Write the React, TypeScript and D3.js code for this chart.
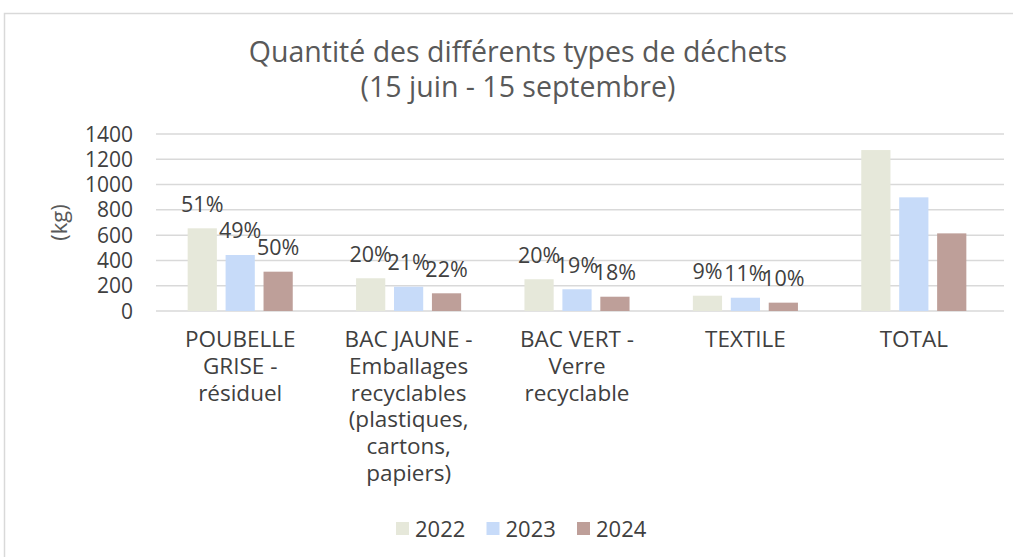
import React from "react";
import * as d3 from "d3";

const categories = [
  ["POUBELLE", "GRISE -", "résiduel"],
  ["BAC JAUNE -", "Emballages", "recyclables", "(plastiques,", "cartons,", "papiers)"],
  ["BAC VERT -", "Verre", "recyclable"],
  ["TEXTILE"],
  ["TOTAL"],
];
const categoryKeys = ["poubelle", "jaune", "vert", "textile", "total"];
const years = ["2022", "2023", "2024"];
const values2022 = [654, 259, 251, 121, 1273];
const values2023 = [443, 192, 172, 105, 899];
const values2024 = [311, 140, 113, 66, 614];
const pct2022 = ["51%", "20%", "20%", "9%", ""];
const pct2023 = ["49%", "21%", "19%", "11%", ""];
const pct2024 = ["50%", "22%", "18%", "10%", ""];
const yTicks = [0, 200, 400, 600, 800, 1000, 1200, 1400];
const colors = ["#e6e8da", "#c7dbf9", "#be9f99"];

const seriesValues = [values2022, values2023, values2024];
const seriesPct = [pct2022, pct2023, pct2024];

export default function App() {
  const W = 1013, H = 557;
  const left = 156, right = 998, top = 134, bottom = 311;
  const x = d3.scaleBand().domain(categoryKeys).range([left, right]).paddingInner(0.376).paddingOuter(0.188);
  const xs = d3.scaleBand().domain(years).range([0, x.bandwidth()]).paddingInner(0.23);
  const y = d3.scaleLinear().domain([0, 1400]).range([bottom, top]);
  const labelFont = "'Open Sans', 'Noto Sans', sans-serif";
  const textColor = "#404040";
  return (
    <svg width={W} height={H} style={{ position: "absolute", left: 0, top: 0, background: "#fff" }}>
      <rect x={4.5} y={13.5} width={1020} height={560} fill="#fff" stroke="#d9d9d9" strokeWidth={1.5} />
      <text x={518} y={62} textAnchor="middle" fontFamily={labelFont} fontSize={28.5} fill="#595959">
        Quantité des différents types de déchets
      </text>
      <text x={518} y={97} textAnchor="middle" fontFamily={labelFont} fontSize={28.5} fill="#595959">
        (15 juin - 15 septembre)
      </text>
      <text transform={`translate(67,${(top + bottom) / 2}) rotate(-90)`} textAnchor="middle" fontFamily={labelFont} fontSize={22} fill="#595959">
        (kg)
      </text>
      {yTicks.map((t) => (
        <g key={t}>
          <line x1={left} x2={right + 6} y1={y(t)} y2={y(t)} stroke="#d9d9d9" strokeWidth={1.5} />
          <text x={133} y={y(t) + 7.5} textAnchor="end" fontFamily={labelFont} fontSize={21} fill={textColor}>
            {t}
          </text>
        </g>
      ))}
      {categoryKeys.map((c, i) => (
        <g key={c} transform={`translate(${x(c)},0)`}>
          {years.map((yr, j) => {
            const v = seriesValues[j][i];
            const bx = xs(yr)!;
            return (
              <g key={yr}>
                <rect x={bx} y={y(v)} width={xs.bandwidth()} height={bottom - y(v)} fill={colors[j]} />
                {seriesPct[j][i] && (
                  <text x={bx + xs.bandwidth() / 2} y={y(v) - 16.5} textAnchor="middle" fontFamily={labelFont} fontSize={21.5} fill={textColor}>
                    {seriesPct[j][i]}
                  </text>
                )}
              </g>
            );
          })}
          {categories[i].map((line, k) => (
            <text key={k} x={x.bandwidth() / 2} y={347 + k * 26.8} textAnchor="middle" fontFamily={labelFont} fontSize={22.5} fill={textColor}>
              {line}
            </text>
          ))}
        </g>
      ))}
      {years.map((yr, j) => {
        const lx = 396 + j * 90.5;
        return (
          <g key={yr}>
            <rect x={lx} y={522} width={13} height={13} fill={colors[j]} />
            <text x={lx + 19} y={537} fontFamily={labelFont} fontSize={22} fill={textColor}>
              {yr}
            </text>
          </g>
        );
      })}
    </svg>
  );
}
